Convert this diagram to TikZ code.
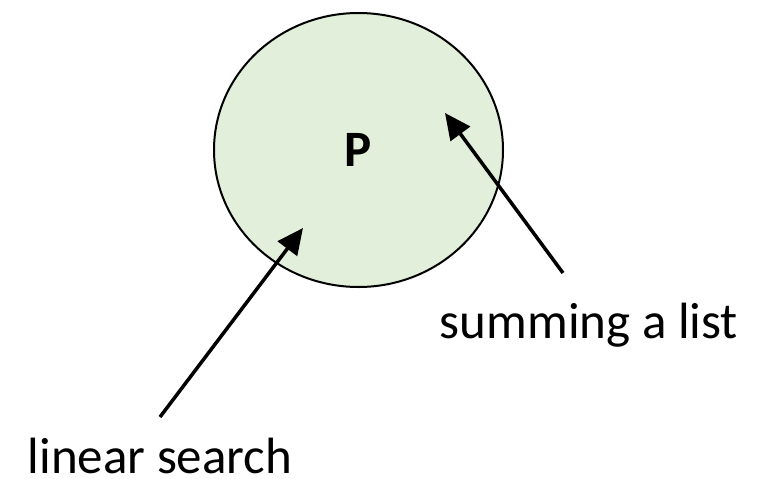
\documentclass[tikz,border=0pt]{standalone}
\usepackage{fontspec}
\setmainfont{Carlito}
\usetikzlibrary{shapes.geometric,arrows.meta}
\definecolor{progfill}{RGB}{226,239,218}
\tikzset{
    labeltext/.style={inner sep=0pt, anchor=base, font=\fontsize{51}{55}\selectfont},
    pointer/.style={line width=3.5pt, -{Triangle[length=26pt,width=24pt]}}
}
\begin{document}
\begin{tikzpicture}[x=1pt,y=-1pt]
    \useasboundingbox (0,0) rectangle (758,479);
    \node[ellipse, draw, line width=2pt, fill=progfill, inner sep=0pt,
          minimum width=289pt, minimum height=274pt,
          font=\bfseries\fontsize{51}{55}\selectfont] (prog) at (358.5,150) {P};
    \node[labeltext] (sum) at (589,338) {summing a list};
    \node[labeltext, text depth=0pt] (lin) at (160,473) {linear search};
    \coordinate (sumtail) at (563,273);
    \coordinate (sumtip) at (445,113);
    \coordinate (lintail) at (160,417);
    \coordinate (lintip) at (303,228);
    \draw[pointer](sumtail)--(sumtip);
    \draw[pointer](lintail)--(lintip);
\end{tikzpicture}
\end{document}
